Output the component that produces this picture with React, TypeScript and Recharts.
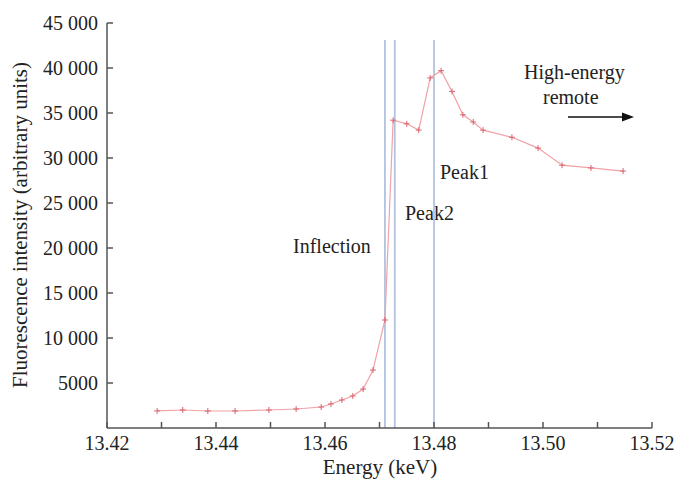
import {
  LineChart,
  Line,
  XAxis,
  YAxis,
  ReferenceLine,
} from "recharts";

// energy (keV) of each measured point
const energies = [
  13.4292, 13.4339, 13.4385, 13.4435, 13.4497, 13.4547, 13.4593, 13.4611,
  13.4631, 13.4651, 13.467, 13.4688, 13.471, 13.4725, 13.475, 13.4772,
  13.4793, 13.4813, 13.4833, 13.4853, 13.4872, 13.489, 13.4943, 13.4991,
  13.5035, 13.5088, 13.5147,
];

// fluorescence intensity (arbitrary units)
const intensities = [
  1900, 2000, 1890, 1890, 2000, 2110, 2330, 2670, 3110, 3560, 4330, 6440,
  12000, 34200, 33800, 33100, 38900, 39700, 37400, 34800, 34000, 33100,
  32300, 31100, 29200, 28900, 28550,
];

// Inflection, Peak2, Peak1
const markerEnergies = [13.471, 13.4728, 13.48];

const xTicks = [
  13.42, 13.43, 13.44, 13.45, 13.46, 13.47, 13.48, 13.49, 13.5, 13.51, 13.52,
];
const xLabels = ["13.42", "13.44", "13.46", "13.48", "13.50", "13.52"];
const yTicks = [5000, 10000, 15000, 20000, 25000, 30000, 35000, 40000, 45000];

const data = energies.map((e, i) => ({ energy: e, intensity: intensities[i] }));

const FONT = "Liberation Serif, Times New Roman, serif";
const FRAME = "#555";
const TEXT = "#222";

const fmtX = (v: number) => {
  const s = v.toFixed(2);
  return xLabels.includes(s) ? s : "";
};

const fmtY = (v: number) =>
  v >= 10000 ? `${Math.floor(v / 1000)} ${String(v % 1000).padStart(3, "0")}` : String(v);

const PlusDot = (props: any) => {
  const { cx, cy } = props;
  if (cx == null || cy == null) return null;
  return (
    <g stroke="#d9646e" strokeWidth={1}>
      <line x1={cx - 3} x2={cx + 3} y1={cy} y2={cy} />
      <line x1={cx} x2={cx} y1={cy - 3} y2={cy + 3} />
    </g>
  );
};

const tickStyle = { fontFamily: FONT, fontSize: 20, fill: TEXT };

const App = () => {
  return (
    <div style={{ position: "absolute", left: 0, top: 0, background: "#fff", fontFamily: FONT }}>
      <LineChart
        width={678}
        height={480}
        data={data}
        margin={{ top: 23, right: 26, left: 0, bottom: 0 }}
      >
        <XAxis
          dataKey="energy"
          type="number"
          domain={[13.42, 13.52]}
          ticks={xTicks}
          tickFormatter={fmtX}
          height={52}
          tickSize={-6}
          tickMargin={14}
          tick={tickStyle}
          stroke={FRAME}
          strokeWidth={1.5}
          interval={0}
        />
        <XAxis
          xAxisId="top"
          orientation="top"
          type="number"
          domain={[13.42, 13.52]}
          ticks={xTicks}
          height={0}
          tickSize={-6}
          tick={false}
          stroke={FRAME}
          strokeWidth={1.5}
          interval={0}
        />
        <YAxis
          type="number"
          domain={[0, 45000]}
          ticks={yTicks}
          tickFormatter={fmtY}
          width={107}
          tickSize={-6}
          tickMargin={15}
          tick={tickStyle}
          stroke={FRAME}
          strokeWidth={1.5}
          interval={0}
        />
        <YAxis
          yAxisId="right"
          orientation="right"
          type="number"
          domain={[0, 45000]}
          ticks={yTicks}
          width={0}
          tickSize={-6}
          tick={false}
          stroke={FRAME}
          strokeWidth={1.5}
          interval={0}
        />
        {markerEnergies.map((e) => (
          <ReferenceLine
            key={e}
            segment={[
              { x: e, y: 0 },
              { x: e, y: 43100 },
            ]}
            stroke="#b3c3de"
            strokeWidth={1.8}
          />
        ))}
        <Line
          dataKey="intensity"
          type="linear"
          stroke="#f0a2a7"
          strokeWidth={1.2}
          dot={<PlusDot />}
          activeDot={false}
          isAnimationActive={false}
        />
        <text
          x={27}
          y={225}
          transform="rotate(-90 27 225)"
          textAnchor="middle"
          fontFamily={FONT}
          fontSize={21}
          fill={TEXT}
        >
          Fluorescence intensity (arbitrary units)
        </text>
        <text x={380} y={474} textAnchor="middle" fontFamily={FONT} fontSize={21} fill={TEXT}>
          Energy (keV)
        </text>
        <g fontFamily={FONT} fontSize={20} fill={TEXT}>
          <text x={293} y={253}>Inflection</text>
          <text x={405} y={220}>Peak2</text>
          <text x={440} y={179}>Peak1</text>
          <text x={524} y={79}>High-energy</text>
          <text x={543} y={104}>remote</text>
        </g>
        <line x1={568} y1={117} x2={624} y2={117} stroke="#111" strokeWidth={1.5} />
        <polygon points="634,117 622,112.5 622,121.5" fill="#111" />
      </LineChart>
    </div>
  );
};

export default App;
